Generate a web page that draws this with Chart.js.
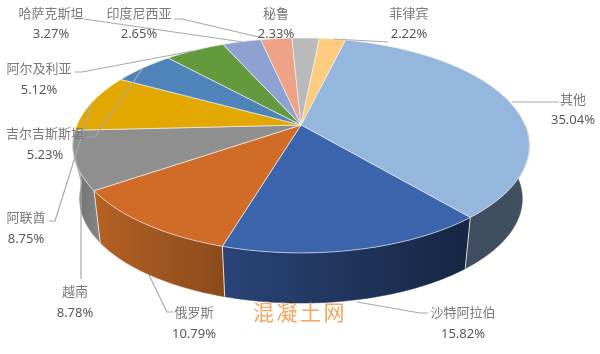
<!DOCTYPE html>
<html lang="zh">
<head>
<meta charset="UTF-8">
<title>3D pie</title>
<script src="https://cdn.jsdelivr.net/npm/chart.js"></script>
<style>
  html, body { margin: 0; padding: 0; background: #fff; }
  #wrap { width: 600px; height: 354px; }
  canvas { display: block; }
</style>
</head>
<body>
<div id="wrap"><canvas id="pie" width="600" height="354"></canvas></div>
<script>
  const categories = ['其他', '沙特阿拉伯', '俄罗斯', '越南', '阿联酋', '吉尔吉斯斯坦', '阿尔及利亚', '哈萨克斯坦', '印度尼西亚', '秘鲁', '菲律宾'];
  const shares = [35.04, 15.82, 10.79, 8.78, 8.75, 5.23, 5.12, 3.27, 2.65, 2.33, 2.22];

  const topColors = ['#95B6DD', '#3A64AC', '#D06C27', '#8F8F8F', '#E2A800', '#4F84BA', '#639A3D', '#8DA2D2', '#EEA287', '#BABABA', '#FDCC7F'];
  const sideLeft = ['#3F4E60', '#2A4478', '#B56123', '#6E6E6E', '#8a6a00', '#2f5070', '#3c5e25', '#55637f', '#8f6252', '#707070', '#98794c'];
  const sideRight = ['#41505F', '#152642', '#8A4A1B', '#868686', '#8a6a00', '#2f5070', '#3c5e25', '#55637f', '#8f6252', '#707070', '#98794c'];

  // label centers, [x, name y, value y]
  const labelPos = [
    [573, 99, 120], [463, 312, 334], [194, 312, 334], [75, 291, 313], [26, 217, 239], [45, 133, 155],
    [39, 68, 90], [51, 13, 34], [139, 13, 34], [276, 13, 34], [409, 13, 34]
  ];
  // leader lines, same order as categories
  const leaders = [
    [[559, 102], [512, 102]],
    [[428, 313], [420, 313], [357, 302]],
    [[173, 312], [167, 312], [149, 275]],
    [[81, 279], [81, 180], [74, 153]],
    [[49, 221], [55, 221], [92, 103]],
    [[87, 137], [95, 137], [143, 68]],
    [[75, 72], [82, 72], [193, 51]],
    [[84, 19], [243, 42]],
    [[174, 19], [182, 19], [263, 38]],
    [],
    [[388, 42], [334, 39]]
  ];

  // perspective of the tilted disc
  const apexX = 301, apexY = 125, radX = 224, radY = 103.6, persp = 0.19;
  const baseY = 179, baseScale = 0.97;

  function topPoint(a) {
    const u = Math.cos(a), v = Math.sin(a);
    const s = 1 / (1 - persp * v);
    return [apexX + radX * u * s, apexY + radY * v * s];
  }

  function basePoint(a) {
    const p = topPoint(a);
    return [apexX + (p[0] - apexX) * baseScale, baseY + (p[1] - apexY) * baseScale];
  }

  function arcPoints(fn, a0, a1) {
    const pts = [];
    const n = Math.max(2, Math.ceil((a1 - a0) * 60));
    for (let i = 0; i <= n; i++) pts.push(fn(a0 + (a1 - a0) * i / n));
    return pts;
  }

  function tracePath(ctx, pts) {
    pts.forEach((p, i) => i ? ctx.lineTo(p[0], p[1]) : ctx.moveTo(p[0], p[1]));
  }

  const pie3d = {
    id: 'pie3d',
    beforeDatasetsDraw(chart) {
      const ctx = chart.ctx;
      const arcs = chart.getDatasetMeta(0).data;

      // side wall, only the front half can show
      arcs.forEach((arc, i) => {
        let a0 = arc.startAngle, a1 = arc.endAngle;
        if (a0 < 0) a0 = 0;
        if (a1 > Math.PI) a1 = Math.PI;
        if (a1 - a0 < 0.1) return;
        const rim = arcPoints(topPoint, a0, a1);
        const base = arcPoints(basePoint, a0, a1).reverse();
        const xs = rim.concat(base).map(p => p[0]);
        const grad = ctx.createLinearGradient(Math.min(...xs), 0, Math.max(...xs), 0);
        grad.addColorStop(0, sideLeft[i]);
        grad.addColorStop(1, sideRight[i]);
        ctx.beginPath();
        tracePath(ctx, rim.concat(base));
        ctx.closePath();
        ctx.fillStyle = grad;
        ctx.strokeStyle = grad;
        ctx.lineWidth = 0.5;
        ctx.fill();
        ctx.stroke();
      });

      // seams on the wall
      ctx.strokeStyle = 'rgba(235,235,235,0.9)';
      ctx.lineWidth = 1;
      arcs.forEach(arc => {
        const a = arc.endAngle;
        if (a <= 0.2 || a >= 2.9) return;
        const p = topPoint(a), q = basePoint(a);
        ctx.beginPath();
        ctx.moveTo(p[0], p[1]);
        ctx.lineTo(q[0], q[1]);
        ctx.stroke();
      });

      // top face
      arcs.forEach((arc, i) => {
        ctx.beginPath();
        tracePath(ctx, [[apexX, apexY]].concat(arcPoints(topPoint, arc.startAngle, arc.endAngle)));
        ctx.closePath();
        ctx.fillStyle = topColors[i];
        ctx.fill();
        ctx.strokeStyle = 'rgba(240,240,240,0.85)';
        ctx.lineWidth = 0.8;
        ctx.stroke();
      });

      // leader lines
      ctx.strokeStyle = '#A9A9A9';
      ctx.lineWidth = 1.2;
      leaders.forEach(line => {
        if (!line.length) return;
        ctx.beginPath();
        tracePath(ctx, line);
        ctx.stroke();
      });

      // labels
      ctx.textAlign = 'center';
      ctx.textBaseline = 'middle';
      categories.forEach((name, i) => {
        const pos = labelPos[i];
        ctx.font = '13px "Noto Sans CJK SC"';
        ctx.fillStyle = '#7A7A7A';
        ctx.fillText(name, pos[0], pos[1]);
        ctx.font = '13px "Noto Sans"';
        ctx.fillStyle = '#595959';
        ctx.fillText(shares[i].toFixed(2) + '%', pos[0], pos[2]);
      });

      // watermark
      ctx.font = '21px "Noto Sans CJK SC"';
      ctx.fillStyle = '#F6A561';
      ctx.letterSpacing = '2.5px';
      ctx.fillText('混凝土网', 300, 312);
      ctx.letterSpacing = '0px';

      return false;
    }
  };

  new Chart(document.getElementById('pie'), {
    type: 'pie',
    data: {
      labels: categories,
      datasets: [{ data: shares, backgroundColor: topColors, borderWidth: 0 }]
    },
    options: {
      responsive: false,
      animation: false,
      rotation: 13.6,
      plugins: { legend: { display: false }, tooltip: { enabled: false } }
    },
    plugins: [pie3d]
  });
</script>
</body>
</html>
